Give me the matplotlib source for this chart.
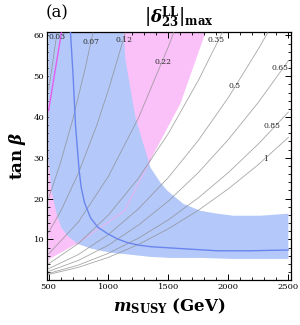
import numpy as np
import matplotlib
matplotlib.use('Agg')
import matplotlib.pyplot as plt
from matplotlib.ticker import MultipleLocator, FixedLocator

plt.rcParams['font.family'] = ['DejaVu Serif']
plt.rcParams['mathtext.fontset'] = 'dejavuserif'

# 蓝色允许区域（上边界 + 下边界，逆时针）
blue_m = [500, 1125, 1142, 1225, 1333, 1350, 1433, 1492, 1625, 1767, 1908, 2042, 2267, 2500,
          2500, 2040, 1770, 1517, 1350, 1133, 1025, 858, 742, 658, 608, 567, 525, 508, 500]
blue_t = [60.8, 60.8, 53.9, 39.9, 29.3, 27.6, 23.9, 21.9, 18.7, 17.0, 16.3, 15.8, 15.8, 16.3,
          5.2, 5.2, 5.45, 5.45, 5.7, 6.4, 6.7, 7.7, 8.9, 10.9, 12.8, 16.3, 21.9, 27.6, 29.3]

# 粉色区域
pink_m = [608, 1810, 1600, 1350, 1133, 733, 508, 500, 500]
pink_t = [60.8, 60.8, 43.3, 29.5, 17.0, 8.9, 5.2, 4.0, 41.6]

# 深蓝曲线
line_m = [683, 705, 725, 742, 755, 772, 800, 850, 910, 992, 1075, 1158, 1250, 1350, 1625, 1908, 2183, 2500]
line_t = [60.8, 50.0, 37.9, 31.7, 27.0, 22.8, 19.0, 15.3, 13.0, 11.4, 10.1, 9.2, 8.6, 8.2, 7.7, 7.2, 7.2, 7.4]

# |delta_23^LL|_max 等值线
contours = {
    '0.03': ([500, 525, 550, 570], [46.7, 51.4, 56.5, 60.6]),
    '0.07': ([500, 600, 700, 800, 870], [20.0, 28.8, 39.2, 51.2, 60.6]),
    '0.12': ([500, 600, 750, 900, 1000, 1140], [11.7, 16.8, 26.3, 37.8, 46.7, 60.6]),
    '0.22': ([500, 750, 1000, 1250, 1500, 1545], [6.4, 14.3, 25.5, 39.8, 57.3, 60.8]),
    '0.35': ([500, 750, 1000, 1250, 1500, 1750, 1950], [4.0, 9.0, 16.0, 25.0, 36.0, 49.0, 60.8]),
    '0.5': ([500, 750, 1000, 1250, 1500, 1750, 2000, 2250, 2330],
            [2.8, 6.3, 11.2, 17.5, 25.2, 34.3, 44.8, 56.7, 60.8]),
    '0.65': ([500, 750, 1000, 1250, 1500, 1750, 2000, 2250, 2500],
             [2.15, 4.85, 8.6, 13.5, 19.4, 26.4, 34.5, 43.6, 53.8]),
    '0.85': ([500, 750, 1000, 1250, 1500, 1750, 2000, 2250, 2500],
             [1.65, 3.7, 6.6, 10.3, 14.8, 20.2, 26.4, 33.4, 41.2]),
    '1': ([500, 750, 1000, 1250, 1500, 1750, 2000, 2250, 2500],
          [1.4, 3.15, 5.6, 8.75, 12.6, 17.15, 22.4, 28.35, 35.0]),
}
label_pos = {
    '0.03': (567, 59.6), '0.07': (850, 58.4), '0.12': (1133, 58.9),
    '0.22': (1458, 53.4), '0.35': (1900, 58.9), '0.5': (2050, 47.5),
    '0.65': (2433, 51.9), '0.85': (2367, 37.9), '1': (2308, 29.8),
}
ytick_vals = [10, 20, 30, 40, 50, 60]

fig = plt.figure(figsize=(3.0, 3.25), dpi=100)
ax = fig.add_axes([0.157, 0.138, 0.813, 0.763])

ax.fill(pink_m, pink_t, color='#fac1f8', lw=0, zorder=1)
ax.fill(blue_m, blue_t, color='#b4c9f9', lw=0, zorder=2)
# 粉色区域边界（透过蓝色可见）
ax.plot([608, 500], [60.8, 41.6], color='#ee44ee', lw=1.0, alpha=0.8, zorder=3)
ax.plot([733, 1133, 1350], [8.9, 17.0, 29.5], color='#e6b4f2', lw=0.8, zorder=3)

for key, (ms, ts) in contours.items():
    ax.plot(ms, ts, color='#8a8a8a', lw=0.6, alpha=0.75, zorder=4)
    x, y = label_pos[key]
    ax.text(x, y, key, fontsize=5.5, ha='center', va='center', color='#2a2a2a', zorder=6)

ax.plot(line_m, line_t, color='#6a85ee', lw=1.0, zorder=5)

ax.set_xlim(488, 2522)
ax.set_ylim(0, 60.8)
ax.xaxis.set_major_locator(MultipleLocator(500))
ax.xaxis.set_minor_locator(MultipleLocator(100))
ax.yaxis.set_major_locator(FixedLocator(ytick_vals))
ax.yaxis.set_minor_locator(MultipleLocator(2))
ax.tick_params(which='both', direction='in', top=True, right=True, labelsize=6, pad=2)
ax.tick_params(which='major', length=4, width=0.7)
ax.tick_params(which='minor', length=2, width=0.6)
for s in ax.spines.values():
    s.set_linewidth(0.9)

ax.set_xlabel(r'$\boldsymbol{m}_{\mathbf{SUSY}}\ \mathbf{(GeV)}$', fontsize=12, labelpad=4)
ax.set_ylabel(r'$\mathbf{tan}\ \boldsymbol{\beta}$', fontsize=12, labelpad=4)

fig.text(0.19, 0.96, '(a)', fontsize=12, ha='center', va='center')
fig.text(0.595, 0.945, r'$\left|\boldsymbol{\delta}_{\mathbf{23}}^{\mathbf{LL}}\right|_{\mathbf{max}}$',
         fontsize=12, ha='center', va='center')

fig.savefig('out.png', dpi=100)
